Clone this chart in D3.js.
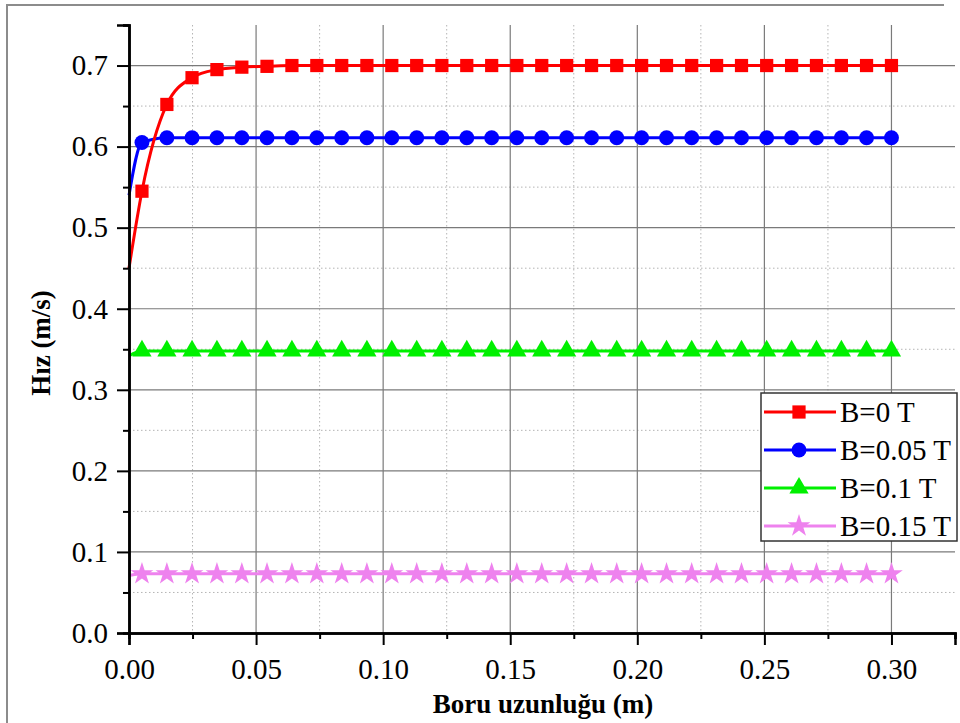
<!DOCTYPE html>
<html>
<head>
<meta charset="utf-8">
<script src="https://cdn.jsdelivr.net/npm/d3@7"></script>
<style>
  html, body { margin: 0; padding: 0; background: #fff; }
  svg { display: block; }
  text { font-family: "Liberation Serif", "Times New Roman", Times, serif; fill: #000; }
</style>
</head>
<body>
<svg id="chart" width="960" height="723"></svg>
<script>
// Pipe length positions (m) of the plotted markers
const xMarkers = [0.0051, 0.0149, 0.0248, 0.0346, 0.0444, 0.0543, 0.0641, 0.0739, 0.0837, 0.0936,
  0.1034, 0.1132, 0.1231, 0.1329, 0.1427, 0.1526, 0.1624, 0.1722, 0.1820, 0.1919,
  0.2017, 0.2115, 0.2214, 0.2312, 0.2410, 0.2509, 0.2607, 0.2705, 0.2803, 0.2902, 0.3000];

// Velocity (m/s) at the inlet (x = 0) for each magnetic field
const inletB0 = 0.450;
const inletB005 = 0.540;
const inletB01 = 0.342;
const inletB015 = 0.071;

// Velocity (m/s) at the marker positions
const velB0 = [0.545, 0.652, 0.685, 0.695, 0.698, 0.699, 0.700, 0.700, 0.700, 0.700,
  0.700, 0.700, 0.700, 0.700, 0.700, 0.700, 0.700, 0.700, 0.700, 0.700,
  0.700, 0.700, 0.700, 0.700, 0.700, 0.700, 0.700, 0.700, 0.700, 0.700, 0.700];
const velB005 = [0.605, 0.611, 0.611, 0.611, 0.611, 0.611, 0.611, 0.611, 0.611, 0.611,
  0.611, 0.611, 0.611, 0.611, 0.611, 0.611, 0.611, 0.611, 0.611, 0.611,
  0.611, 0.611, 0.611, 0.611, 0.611, 0.611, 0.611, 0.611, 0.611, 0.611, 0.611];
const velB01 = [0.348, 0.348, 0.348, 0.348, 0.348, 0.348, 0.348, 0.348, 0.348, 0.348,
  0.348, 0.348, 0.348, 0.348, 0.348, 0.348, 0.348, 0.348, 0.348, 0.348,
  0.348, 0.348, 0.348, 0.348, 0.348, 0.348, 0.348, 0.348, 0.348, 0.348, 0.348];
const velB015 = [0.073, 0.073, 0.073, 0.073, 0.073, 0.073, 0.073, 0.073, 0.073, 0.073,
  0.073, 0.073, 0.073, 0.073, 0.073, 0.073, 0.073, 0.073, 0.073, 0.073,
  0.073, 0.073, 0.073, 0.073, 0.073, 0.073, 0.073, 0.073, 0.073, 0.073, 0.073];

const seriesNames = ["B=0 T", "B=0.05 T", "B=0.1 T", "B=0.15 T"];

// Axis ticks
const xMajorTicks = [0.00, 0.05, 0.10, 0.15, 0.20, 0.25, 0.30];
const xMinorTicks = [0.025, 0.075, 0.125, 0.175, 0.225, 0.275, 0.325];
const yMajorTicks = [0.0, 0.1, 0.2, 0.3, 0.4, 0.5, 0.6, 0.7];
const yMinorTicks = [0.05, 0.15, 0.25, 0.35, 0.45, 0.55, 0.65, 0.75];

const xTitle = "Boru uzunluğu (m)";
const yTitle = "Hız (m/s)";

// ---------------------------------------------------------------
const svg = d3.select("#chart");
const plot = { left: 129, right: 955, top: 25, bottom: 633 };

const x = d3.scaleLinear().domain([0, 0.325]).range([plot.left, plot.right]);
const y = d3.scaleLinear().domain([0, 0.75]).range([plot.bottom, plot.top]);

// page frame
svg.append("path")
  .attr("d", `M7,723 V5 H944`)
  .attr("fill", "none").attr("stroke", "#8c8c8c").attr("stroke-width", 2);

// grid
const grid = svg.append("g");
grid.selectAll(".vminor").data(xMinorTicks.filter(d => d < 0.32)).enter().append("line")
  .attr("x1", d => x(d)).attr("x2", d => x(d)).attr("y1", plot.top).attr("y2", plot.bottom)
  .attr("stroke", "#b4b4b4").attr("stroke-width", 1).attr("stroke-dasharray", "1.5,2.5");
grid.selectAll(".hminor").data(yMinorTicks.filter(d => d < 0.7)).enter().append("line")
  .attr("x1", plot.left).attr("x2", plot.right).attr("y1", d => y(d)).attr("y2", d => y(d))
  .attr("stroke", "#b4b4b4").attr("stroke-width", 1).attr("stroke-dasharray", "1.5,2.5");
grid.selectAll(".vmajor").data(xMajorTicks.filter(d => d > 0)).enter().append("line")
  .attr("x1", d => x(d)).attr("x2", d => x(d)).attr("y1", plot.top).attr("y2", plot.bottom)
  .attr("stroke", "#7a7a7a").attr("stroke-width", 1.2);
grid.selectAll(".hmajor").data(yMajorTicks.filter(d => d > 0)).enter().append("line")
  .attr("x1", plot.left).attr("x2", plot.right).attr("y1", d => y(d)).attr("y2", d => y(d))
  .attr("stroke", "#7a7a7a").attr("stroke-width", 1.2);

// series
const series = [
  { name: seriesNames[0], inlet: inletB0, values: velB0, color: "#ff0000", symbol: d3.symbolSquare, size: 175 },
  { name: seriesNames[1], inlet: inletB005, values: velB005, color: "#0000ff", symbol: d3.symbolCircle, size: 175 },
  { name: seriesNames[2], inlet: inletB01, values: velB01, color: "#00f000", symbol: d3.symbolTriangle, size: 160 },
  { name: seriesNames[3], inlet: inletB015, values: velB015, color: "#ee82ee", symbol: d3.symbolStar, size: 160 }
];

const line = d3.line().x(d => x(d[0])).y(d => y(d[1])).curve(d3.curveMonotoneX);

series.slice().reverse().forEach(s => {
  const pts = [[0, s.inlet]].concat(xMarkers.map((xv, i) => [xv, s.values[i]]));
  svg.append("path").datum(pts)
    .attr("d", line).attr("fill", "none")
    .attr("stroke", s.color).attr("stroke-width", 3);
  svg.append("g").selectAll("path").data(xMarkers.map((xv, i) => [xv, s.values[i]])).enter()
    .append("path")
    .attr("transform", d => `translate(${x(d[0])},${y(d[1])})`)
    .attr("d", d3.symbol().type(s.symbol).size(s.size))
    .attr("fill", s.color);
});

// axes
const xAxis = svg.append("g").attr("transform", `translate(0,${plot.bottom})`)
  .call(d3.axisBottom(x).tickValues(xMajorTicks).tickSize(12).tickPadding(8)
    .tickFormat(d3.format(".2f")));
const xAxisMinor = svg.append("g").attr("transform", `translate(0,${plot.bottom})`)
  .call(d3.axisBottom(x).tickValues(xMinorTicks).tickSize(6).tickFormat(""));
const yAxis = svg.append("g").attr("transform", `translate(${plot.left},0)`)
  .call(d3.axisLeft(y).tickValues(yMajorTicks).tickSize(12).tickPadding(9)
    .tickFormat(d3.format(".1f")));
const yAxisMinor = svg.append("g").attr("transform", `translate(${plot.left},0)`)
  .call(d3.axisLeft(y).tickValues(yMinorTicks).tickSize(6).tickFormat(""));

[xAxis, xAxisMinor, yAxis, yAxisMinor].forEach(g => {
  g.attr("font-family", null).attr("font-size", 29);
  g.select(".domain").attr("stroke", "#000").attr("stroke-width", 2.5);
  g.selectAll(".tick line").attr("stroke", "#000").attr("stroke-width", 2);
  g.selectAll(".tick text").attr("fill", "#000");
});
xAxis.selectAll(".tick text").attr("dy", "0.9em");

// axis titles
svg.append("text")
  .attr("x", 543).attr("y", 713)
  .attr("text-anchor", "middle").attr("font-size", 27).attr("font-weight", "bold")
  .text(xTitle);
svg.append("text")
  .attr("transform", `translate(50,343) rotate(-90)`)
  .attr("text-anchor", "middle").attr("font-size", 27).attr("font-weight", "bold")
  .text(yTitle);

// legend
const lg = { left: 761, top: 393, width: 196, rowH: 38 };
const legend = svg.append("g");
legend.append("rect")
  .attr("x", lg.left).attr("y", lg.top)
  .attr("width", lg.width).attr("height", 148)
  .attr("fill", "#fff").attr("stroke", "#333").attr("stroke-width", 1.5);
series.forEach((s, i) => {
  const cy = lg.top + 19 + i * lg.rowH;
  legend.append("line")
    .attr("x1", lg.left + 3).attr("x2", lg.left + 75).attr("y1", cy).attr("y2", cy)
    .attr("stroke", s.color).attr("stroke-width", 3);
  legend.append("path")
    .attr("transform", `translate(${lg.left + 38},${cy})`)
    .attr("d", d3.symbol().type(s.symbol).size(s.size)).attr("fill", s.color);
  legend.append("text")
    .attr("x", lg.left + 79).attr("y", cy).attr("dy", "0.35em")
    .attr("font-size", 29).text(s.name);
});
</script>
</body>
</html>
